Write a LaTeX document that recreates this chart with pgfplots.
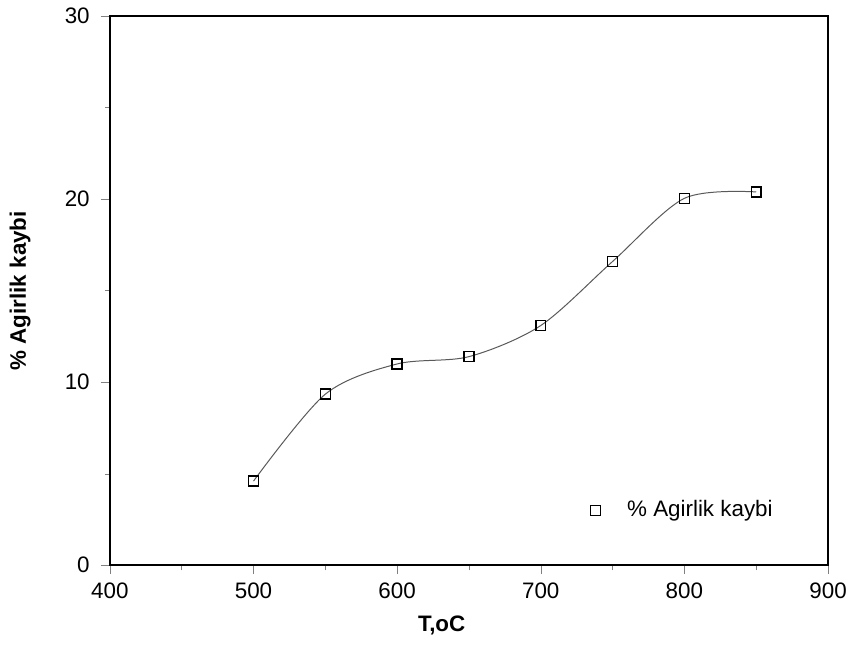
\documentclass[border=0pt]{standalone}
\usepackage{pgfplots}
\pgfplotsset{compat=1.18}
\usepackage{fontspec}
\setmainfont{Liberation Sans}
\begin{document}
\begin{tikzpicture}
\begin{axis}[
    scale only axis,
    width=10.15cm, height=7.76cm,
    xmin=400, xmax=900, ymin=0, ymax=30,
    clip=false,
    xtick={400,500,...,900},
    ytick={0,10,20,30},
    minor x tick num=1,
    minor y tick num=1,
    tick align=outside,
    xtick pos=left, ytick pos=left,
    major tick length=3.6pt, minor tick length=2pt,
    tick label style={font=\small},
    yticklabel style={xshift=-1pt},
    /pgf/number format/assume math mode=true,
    xlabel={\textbf{T,oC}},
    ylabel={\textbf{\% Agirlik kaybi}},
    label style={font=\small},
    xlabel style={at={(rel axis cs:0.462,-0.11)}, anchor=center},
    ylabel style={at={(rel axis cs:-0.125,0.5)}, anchor=center},
    axis line style={line width=0.8pt},
    legend style={draw=none, fill=none, at={(0.655,0.1)}, anchor=west, font=\small},
    legend image code/.code={\path[draw=none] (0cm,0cm) -- (0.48cm,0cm);
        \draw[mark=square, mark size=2pt, line width=0.6pt] plot coordinates {(0.1cm,0cm)};},
]
\addplot[smooth, black!65, line width=0.4pt, mark=square, mark size=2pt,
         mark options={solid, black, line width=0.6pt}]
    coordinates {(500,4.6) (550,9.35) (600,11.0) (650,11.4) (700,13.1) (750,16.6) (800,20.05) (850,20.4)};
\addlegendentry{\% Agirlik kaybi}
% page extent as in the reference
\path (rel axis cs:-0.153,-0.169) (rel axis cs:1.033,1.022);
\end{axis}
\end{tikzpicture}
\end{document}
